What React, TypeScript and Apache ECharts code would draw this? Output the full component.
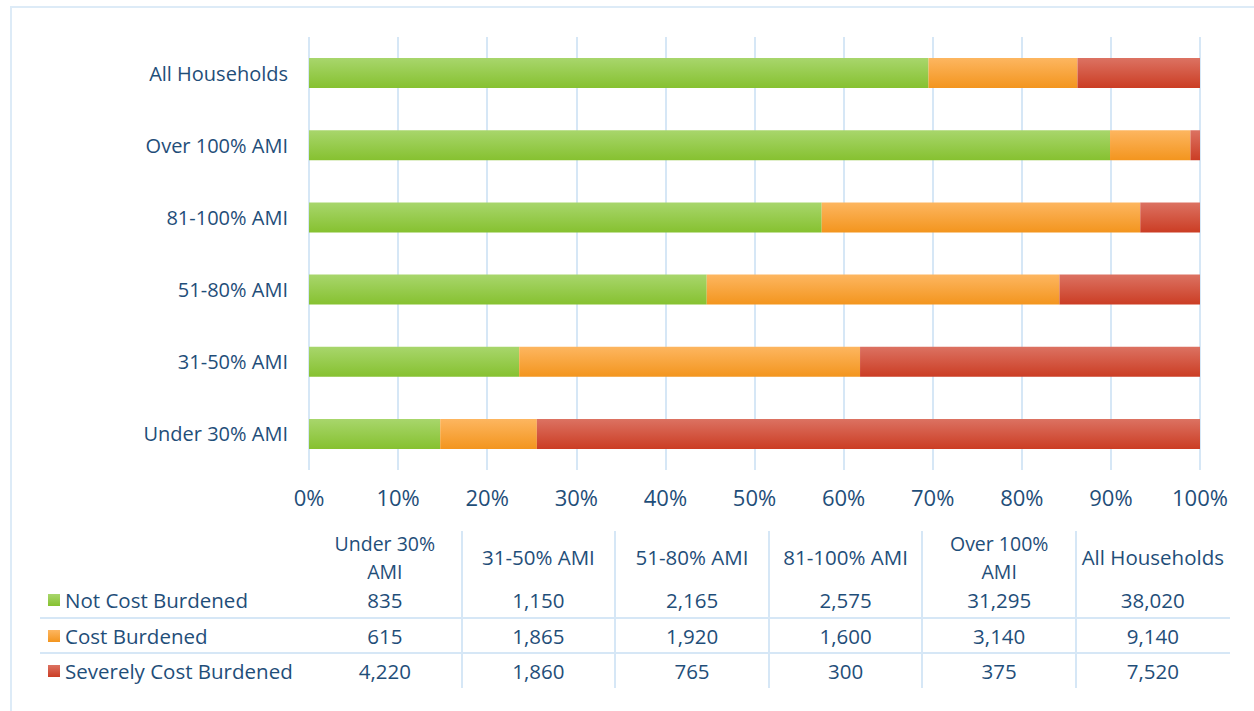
import React, { useEffect, useRef } from "react";
import * as echarts from "echarts";

const categories = ["Under 30% AMI", "31-50% AMI", "51-80% AMI", "81-100% AMI", "Over 100% AMI", "All Households"];
const tableHeaders = [["Under 30%", "AMI"], ["31-50% AMI"], ["51-80% AMI"], ["81-100% AMI"], ["Over 100%", "AMI"], ["All Households"]];
const seriesNames = ["Not Cost Burdened", "Cost Burdened", "Severely Cost Burdened"];
const notBurdened = [835, 1150, 2165, 2575, 31295, 38020];
const costBurdened = [615, 1865, 1920, 1600, 3140, 9140];
const severelyBurdened = [4220, 1860, 765, 300, 375, 7520];
const xTicks = [0, 10, 20, 30, 40, 50, 60, 70, 80, 90, 100];

const TEXT = "#1F4E79";
const GRIDC = "#D6E7F6";
const FONT = "'Open Sans'";

const grad = (top: string, bottom: string) =>
  new echarts.graphic.LinearGradient(0, 0, 0, 1, [
    { offset: 0, color: top },
    { offset: 1, color: bottom },
  ]);

const colors = [
  ["#A8D66C", "#86C130"],
  ["#FDB660", "#F3951E"],
  ["#DC7262", "#CB3D24"],
];

export default function App() {
  const ref = useRef<HTMLDivElement>(null);
  useEffect(() => {
    if (!ref.current) return;
    const chart = echarts.init(ref.current, undefined, { renderer: "svg" });
    const all = [notBurdened, costBurdened, severelyBurdened];
    const totals = categories.map((_, i) => all.reduce((s, a) => s + a[i], 0));
    const fmt = (v: number) => v.toLocaleString("en-US");

    const colLeft = 308;
    const colW = 153.6;
    const g: any[] = [];
    g.push({
      type: "rect",
      shape: { x: 11, y: 7, width: 1260, height: 720 },
      style: { fill: "none", stroke: "#DDEBF7", lineWidth: 2 },
      silent: true,
    });
    const font = `20.5px ${FONT}`;
    tableHeaders.forEach((lines, i) => {
      const cx = colLeft + colW * (i + 0.5);
      const two = lines.length === 2;
      const ys = two ? [543.5, 571] : [557];
      lines.forEach((t, k) => {
        g.push({
          type: "text",
          x: cx,
          y: ys[k],
          style: { text: t, fill: TEXT, font: two ? `19.5px ${FONT}` : font, align: "center", verticalAlign: "middle" },
        });
      });
    });
    const rowY = [600, 636, 671];
    all.forEach((arr, r) => {
      g.push({
        type: "rect",
        shape: { x: 48, y: rowY[r] - 6, width: 12, height: 12 },
        style: { fill: grad(colors[r][0], colors[r][1]) },
      });
      g.push({ type: "text", x: 65, y: rowY[r], style: { text: seriesNames[r], fill: TEXT, font, align: "left", verticalAlign: "middle" } });
      arr.forEach((v, i) => {
        const cx = colLeft + colW * (i + 0.5);
        g.push({ type: "text", x: cx, y: rowY[r], style: { text: fmt(v), fill: TEXT, font, align: "center", verticalAlign: "middle" } });
      });
    });
    [618, 653].forEach((y) => {
      g.push({ type: "line", shape: { x1: 40, y1: y, x2: 1230, y2: y }, style: { stroke: GRIDC, lineWidth: 2 } });
    });
    for (let i = 1; i <= 5; i++) {
      const x = Math.round(colLeft + colW * i);
      g.push({ type: "line", shape: { x1: x, y1: 531, x2: x, y2: 688 }, style: { stroke: GRIDC, lineWidth: 2 } });
    }

    chart.setOption({
      animation: false,
      backgroundColor: "#fff",
      grid: { left: 309, right: 54, top: 37, height: 433, containLabel: false },
      xAxis: {
        type: "value",
        min: 0,
        max: 100,
        interval: 10,
        axisLine: { show: false },
        axisTick: { show: false },
        splitLine: { show: true, lineStyle: { color: GRIDC, width: 2 } },
        axisLabel: {
          formatter: (v: number) => (xTicks.includes(v) ? `${v}%` : ""),
          color: TEXT,
          fontFamily: FONT,
          fontSize: 22,
          margin: 16,
        },
      },
      yAxis: {
        type: "category",
        data: categories,
        axisLine: { show: false },
        axisTick: { show: false },
        axisLabel: { color: TEXT, fontFamily: FONT, fontSize: 20, margin: 21 },
      },
      series: all.map((arr, r) => ({
        name: seriesNames[r],
        type: "bar",
        stack: "total",
        barWidth: 30,
        itemStyle: { color: grad(colors[r][0], colors[r][1]) },
        data: arr.map((v, i) => (v / totals[i]) * 100),
      })),
      graphic: g,
    });
    return () => chart.dispose();
  }, []);
  return <div ref={ref} style={{ position: "fixed", left: 0, top: 0, width: 1254, height: 711 }} />;
}
